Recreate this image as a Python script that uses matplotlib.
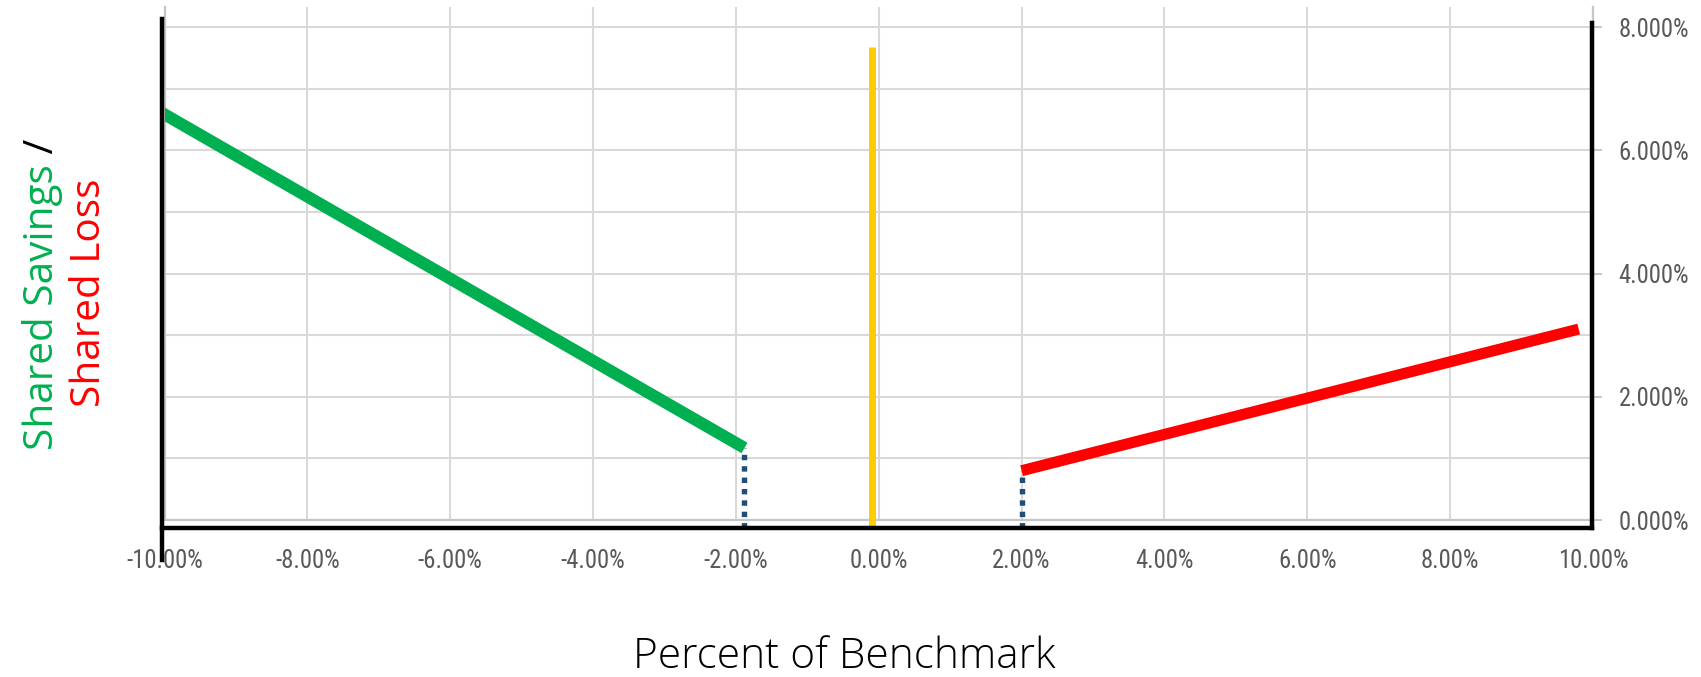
import matplotlib
matplotlib.use("Agg")
import matplotlib.pyplot as plt
from matplotlib.ticker import FixedLocator
from matplotlib import font_manager as fm
from matplotlib.textpath import TextPath
from matplotlib.font_manager import FontProperties

# ---------------- data ----------------
x_ticks = [-10, -8, -6, -4, -2, 0, 2, 4, 6, 8, 10]
x_tick_labels = ["-10.00%", "-8.00%", "-6.00%", "-4.00%", "-2.00%", "0.00%",
                 "2.00%", "4.00%", "6.00%", "8.00%", "10.00%"]
y_ticks = [0, 2, 4, 6, 8]
y_tick_labels = ["0.000%", "2.000%", "4.000%", "6.000%", "8.000%"]
y_minor_grid = [1, 3, 5, 7]

savings_x = [-10.05, -1.88]     # shared savings (green)
savings_y = [6.62, 1.17]
loss_x = [2.0, 9.8]             # shared loss (red)
loss_y = [0.80, 3.10]
benchmark_x = [-0.09, -0.09]    # benchmark marker (yellow)
benchmark_y = [-0.13, 7.68]
msr_x = [-1.88, -1.88]          # minimum savings rate (dotted)
msr_y = [-0.13, 1.17]
mlr_x = [2.0, 2.0]              # minimum loss rate (dotted)
mlr_y = [-0.13, 0.80]

# ---------------- choose a narrow font for tick labels ----------------
entries = fm.fontManager.ttflist
names = {f.name for f in entries}
tick_fp = None
for cand in ["Liberation Sans Narrow", "Arial Narrow", "Roboto Condensed",
             "Open Sans Condensed", "Noto Sans Condensed", "DejaVu Sans Condensed"]:
    if cand in names:
        tick_fp = FontProperties(family=cand)
        break
if tick_fp is None:
    cond = [f for f in entries if f.name in ("DejaVu Sans", "Noto Sans", "Open Sans")
            and str(f.stretch) in ("condensed", "semi-condensed", "75", "87", "62")
            and f.weight in (400, "normal", "regular")]
    if cond:
        tick_fp = FontProperties(fname=cond[0].fname)
    else:
        tick_fp = FontProperties(family="Roboto" if "Roboto" in names else "DejaVu Sans")

# fit size so "-10.00%" is ~75 px wide (at 100 dpi, 1pt = 100/72 px)
base = 18.0
tp = TextPath((0, 0), "-10.00%", size=base, prop=tick_fp)
w_px = tp.get_extents().width * 100 / 72
tick_size = min(base, base * 75 / w_px) if w_px > 0 else 15
tick_fp.set_size(tick_size)

# ---------------- figure ----------------
W, H = 1701, 677
fig = plt.figure(figsize=(W / 100, H / 100), dpi=100)
ax = fig.add_axes([164.5 / W, (H - 520) / H, (1593 - 164.5) / W, (520 - 7) / H])
ax.set_xlim(-10, 10)
ax.set_ylim(0, 8.33)

grid_c = "#D9D9D9"
axis_c = "#C6C6C6"
label_c = "#595959"

ax.set_xticks(x_ticks)
ax.set_xticklabels(x_tick_labels, fontproperties=tick_fp, color=label_c)
ax.yaxis.tick_right()
ax.set_yticks(y_ticks)
ax.set_yticklabels(y_tick_labels, fontproperties=tick_fp, color=label_c)
ax.yaxis.set_minor_locator(FixedLocator(y_minor_grid))
ax.tick_params(axis="x", length=0, pad=21)
ax.tick_params(axis="y", which="major", length=6.5, width=1.4, color=axis_c, pad=12)
ax.tick_params(axis="y", which="minor", length=0)
ax.grid(True, which="major", axis="both", color=grid_c, lw=1.5)
ax.grid(True, which="minor", axis="y", color=grid_c, lw=1.5)
ax.set_axisbelow(True)

ax.spines["top"].set_visible(False)
for s in ("left", "right", "bottom"):
    ax.spines[s].set_color(axis_c)
    ax.spines[s].set_linewidth(1.6)

# data lines
ax.plot(savings_x, savings_y, color="#00B050", lw=8.7, solid_capstyle="butt", zorder=5)
ax.plot(loss_x, loss_y, color="#FF0000", lw=8.0, solid_capstyle="butt", zorder=5)
ax.plot(benchmark_x, benchmark_y, color="#FFCC00", lw=5.0, solid_capstyle="butt",
        zorder=4, clip_on=False)
for xs, ys in ((msr_x, msr_y), (mlr_x, mlr_y)):
    ax.plot(xs, ys, color="#1F4E79", lw=3.9, linestyle=(0, (1, 1.1)),
            dash_capstyle="butt", zorder=4, clip_on=False)

# black frame strokes
blk = dict(color="black", lw=3.2, solid_capstyle="projecting", zorder=6, clip_on=False)
ax.plot([-10.035, -10.035], [8.13, -0.65], **blk)
ax.plot([-10.035, 9.986], [-0.13, -0.13], **blk)
ax.plot([9.986, 9.986], [8.07, -0.13], **blk)

# axis title
fig.text(844 / W, (H - 657) / H, "Percent of Benchmark", ha="center", va="center",
         fontsize=30.5, color="black", family=["Open Sans", "DejaVu Sans"], fontweight="light")

# rotated two-colour y label
yfont = ["Open Sans", "DejaVu Sans"]
ysize = 29.2
t1 = fig.text(53 / W, (H - 450) / H, "Shared Savings", rotation=90, rotation_mode="anchor",
              ha="left", va="baseline", fontsize=ysize, color="#00B050", family=yfont)
fig.canvas.draw()
bb = t1.get_window_extent()
fig.text(53 / W, bb.y1 / H, " /", rotation=90, rotation_mode="anchor",
         ha="left", va="baseline", fontsize=ysize, color="black", family=yfont)
fig.text(100 / W, (H - 407) / H, "Shared Loss", rotation=90, rotation_mode="anchor",
         ha="left", va="baseline", fontsize=ysize, color="#FF0000", family=yfont)

fig.savefig("out.png", dpi=100)
